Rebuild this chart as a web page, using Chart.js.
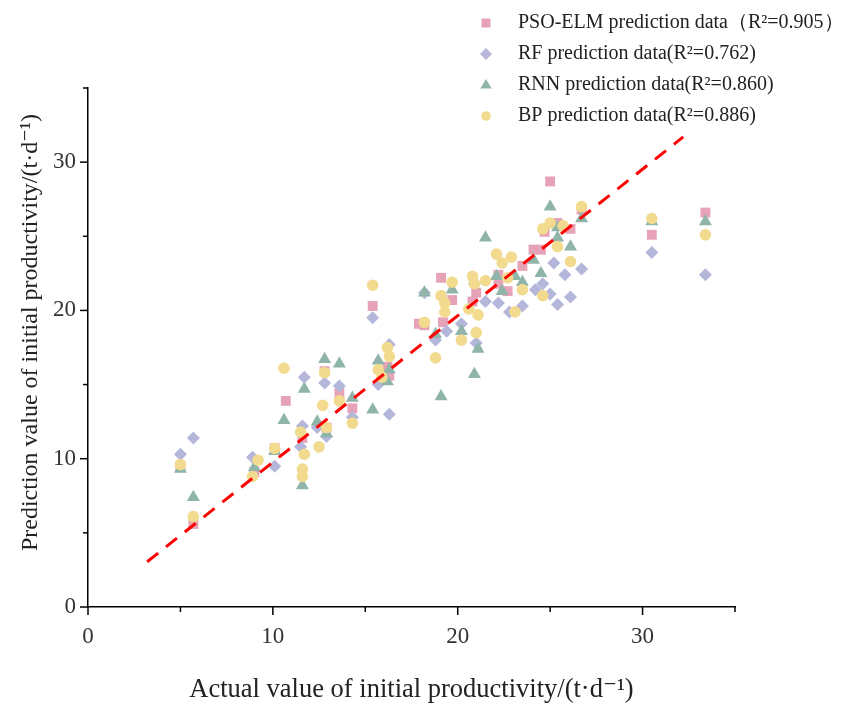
<!DOCTYPE html>
<html lang="en">
<head>
<meta charset="UTF-8">
<title>Initial productivity prediction</title>
<style>
  html, body { margin: 0; padding: 0; background: #fff; }
  #box { width: 844px; height: 704px; }
</style>
</head>
<body>
<div id="box"><canvas id="myChart" width="844" height="704"></canvas></div>
<script src="https://cdn.jsdelivr.net/npm/chart.js"></script>
<script>
// PSO-ELM prediction
const psoX = [5.0, 5.7, 9.0, 10.1, 10.7, 11.6, 12.8, 12.9, 13.6, 14.3, 15.4, 16.2, 16.3, 17.9, 18.2, 19.1, 19.2, 19.7, 20.8, 21.0, 22.2, 22.2, 22.7, 23.5, 24.1, 24.5, 24.7, 25.0, 25.4, 26.1, 26.7, 30.5, 33.4];
const psoY = [9.5, 5.6, 9.1, 10.7, 13.9, 11.4, 15.9, 12.1, 14.4, 13.4, 20.3, 16.2, 15.6, 19.1, 19.0, 22.2, 19.2, 20.7, 20.6, 21.2, 22.4, 21.8, 21.3, 23.0, 24.1, 24.1, 25.3, 28.7, 25.9, 25.5, 26.8, 25.1, 26.6];

// RF prediction
const rfX = [5.0, 5.7, 8.9, 10.1, 11.5, 11.6, 11.7, 12.4, 12.8, 12.9, 13.6, 14.3, 15.4, 15.7, 16.3, 16.3, 18.2, 18.8, 19.4, 20.2, 21.0, 21.5, 22.2, 22.8, 23.5, 24.2, 24.6, 25.0, 25.2, 25.4, 25.8, 26.1, 26.7, 30.5, 33.4];
const rfY = [10.3, 11.4, 10.1, 9.5, 10.8, 12.2, 15.5, 12.1, 15.1, 11.5, 14.9, 12.8, 19.5, 15.0, 17.7, 13.0, 21.2, 18.0, 18.6, 19.1, 17.8, 20.6, 20.5, 19.9, 20.3, 21.4, 21.8, 21.1, 23.2, 20.4, 22.4, 20.9, 22.8, 23.9, 22.4];

// RNN prediction
const rnnX = [5.0, 5.7, 9.0, 10.1, 10.6, 11.6, 11.7, 12.4, 12.8, 12.9, 13.6, 14.3, 15.4, 15.7, 16.2, 16.3, 18.2, 18.8, 19.1, 19.7, 20.2, 20.9, 20.9, 21.1, 21.5, 22.1, 22.4, 23.1, 23.5, 24.1, 24.5, 25.0, 25.4, 25.4, 26.1, 26.7, 30.5, 33.4];
const rnnY = [9.3, 7.4, 9.4, 10.5, 12.6, 8.2, 14.7, 12.5, 16.7, 11.7, 16.4, 14.1, 13.3, 16.6, 15.2, 16.0, 21.2, 18.4, 14.2, 21.4, 18.6, 22.0, 15.7, 17.4, 24.9, 22.3, 21.3, 22.3, 21.9, 23.4, 22.5, 27.0, 25.6, 24.9, 24.3, 26.2, 26.0, 26.0];

// BP prediction
const bpX = [5.0, 5.7, 8.9, 9.2, 10.1, 10.6, 11.5, 11.6, 11.6, 11.7, 12.5, 12.7, 12.8, 12.9, 13.6, 14.3, 15.4, 15.7, 15.9, 16.2, 16.3, 18.2, 18.8, 19.1, 19.3, 19.3, 19.7, 20.2, 20.6, 20.8, 20.9, 21.0, 21.1, 21.5, 22.1, 22.4, 22.7, 22.9, 23.1, 23.5, 24.6, 24.6, 25.0, 25.4, 25.7, 26.1, 26.7, 30.5, 33.4];
const bpY = [9.6, 6.1, 8.8, 9.9, 10.7, 16.1, 11.8, 9.3, 8.8, 10.3, 10.8, 13.6, 15.8, 12.1, 13.9, 12.4, 21.7, 16.0, 15.5, 17.5, 16.9, 19.2, 16.8, 21.0, 20.5, 19.9, 21.9, 18.0, 20.1, 22.3, 21.8, 18.5, 19.7, 22.0, 23.8, 23.2, 22.2, 23.6, 19.9, 21.4, 21.0, 25.5, 25.9, 24.3, 25.7, 23.3, 27.0, 26.2, 25.1];

// dashed reference line
const fitX = [3.2, 32.2];
const fitY = [3.05, 31.7];

const tickValues = [0, 5, 10, 15, 20, 25, 30, 35];
const legendLabels = [
    'PSO-ELM prediction data\uFF08R\u00B2=0.905\uFF09',
    'RF prediction data(R\u00B2=0.762)',
    'RNN prediction data(R\u00B2=0.860)',
    'BP prediction data(R\u00B2=0.886)'
];
const seriesColors = ['#e6a3b8', '#b4b6da', '#8fb5aa', '#f2da8e'];
const seriesStyles = ['rect', 'rectRot', 'triangle', 'circle'];
const seriesRadius = [7, 6.5, 7.5, 5.8];

const serif = "'Liberation Serif', 'DejaVu Serif', serif";

function toPoints(xs, ys) {
    return xs.map(function (x, i) { return { x: x, y: ys[i] }; });
}

const sets = [[psoX, psoY], [rfX, rfY], [rnnX, rnnY], [bpX, bpY]];
const datasets = sets.map(function (s, i) {
    return {
        type: 'scatter',
        label: legendLabels[i],
        data: toPoints(s[0], s[1]),
        pointStyle: seriesStyles[i],
        pointRadius: seriesRadius[i],
        pointBackgroundColor: seriesColors[i],
        pointBorderWidth: 0,
        order: 4 - i
    };
});
datasets.push({
    type: 'line',
    label: 'fit',
    data: toPoints(fitX, fitY),
    borderColor: '#ff0000',
    borderWidth: 3,
    borderDash: [14, 10],
    pointRadius: 0,
    fill: false,
    order: 0
});

// tick marks: long at 10s, short at 5s
const axisTicks = {
    id: 'axisTicks',
    afterDraw(chart) {
        const ctx = chart.ctx, a = chart.chartArea;
        const xs = chart.scales.x, ys = chart.scales.y;
        ctx.save();
        ctx.strokeStyle = '#000';
        ctx.lineWidth = 1.5;
        tickValues.forEach(function (v) {
            const len = v % 10 === 0 ? 8 : 5;
            const px = xs.getPixelForValue(v);
            ctx.beginPath();
            ctx.moveTo(px, a.bottom);
            ctx.lineTo(px, a.bottom + len);
            ctx.stroke();
            const py = ys.getPixelForValue(v);
            ctx.beginPath();
            ctx.moveTo(a.left, py);
            ctx.lineTo(a.left - len, py);
            ctx.stroke();
        });
        ctx.restore();
    }
};

// legend in the top right corner
function drawMarker(ctx, style, x, y, r) {
    ctx.beginPath();
    if (style === 'rect') {
        ctx.rect(x - r * 0.75, y - r * 0.75, r * 1.5, r * 1.5);
    } else if (style === 'rectRot') {
        ctx.moveTo(x, y - r); ctx.lineTo(x + r, y); ctx.lineTo(x, y + r); ctx.lineTo(x - r, y);
        ctx.closePath();
    } else if (style === 'triangle') {
        ctx.moveTo(x, y - r); ctx.lineTo(x + r * 0.95, y + r * 0.6); ctx.lineTo(x - r * 0.95, y + r * 0.6);
        ctx.closePath();
    } else {
        ctx.arc(x, y, r * 0.8, 0, Math.PI * 2);
    }
    ctx.fill();
}

const cornerLegend = {
    id: 'cornerLegend',
    afterDraw(chart) {
        const ctx = chart.ctx;
        const x0 = chart.width - 358, y0 = 23, gap = 31;
        ctx.save();
        ctx.font = '20px ' + serif;
        ctx.textBaseline = 'middle';
        ctx.textAlign = 'left';
        legendLabels.forEach(function (txt, i) {
            const y = y0 + i * gap;
            ctx.fillStyle = seriesColors[i];
            drawMarker(ctx, seriesStyles[i], x0, y, 6);
            ctx.fillStyle = '#222';
            ctx.fillText(txt, x0 + 32, y);
        });
        ctx.restore();
    }
};

const ctx = document.getElementById('myChart');
const myChart = new Chart(ctx, {
    data: { datasets: datasets },
    options: {
        responsive: false,
        animation: false,
        layout: { padding: { top: 88, right: 109, left: 0, bottom: 0 } },
        plugins: { legend: { display: false }, tooltip: { enabled: false } },
        scales: {
            x: {
                type: 'linear',
                min: 0,
                max: 35,
                afterFit: function (s) { s.height = 97; },
                grid: { display: false, drawTicks: false, tickLength: 0 },
                border: { display: true, color: '#000', width: 1.5 },
                ticks: {
                    stepSize: 5,
                    padding: 16,
                    color: '#333',
                    font: { family: serif, size: 23 },
                    callback: function (v) { return v % 10 === 0 ? v : ''; }
                },
                title: {
                    display: true,
                    text: 'Actual value of initial productivity/(t\u00B7d\u207B\u00B9)',
                    color: '#222',
                    font: { family: serif, size: 26.5 },
                    padding: { top: 0, bottom: -2 }
                }
            },
            y: {
                type: 'linear',
                min: 0,
                max: 35,
                afterFit: function (s) { s.width = 88; },
                grid: { display: false, drawTicks: false, tickLength: 0 },
                border: { display: true, color: '#000', width: 1.5 },
                ticks: {
                    stepSize: 5,
                    padding: 12,
                    color: '#333',
                    font: { family: serif, size: 23 },
                    callback: function (v) { return v % 10 === 0 ? v : ''; }
                },
                title: {
                    display: true,
                    text: '\u00A0\u00A0\u00A0\u00A0\u00A0Prediction value of initial productivity/(t\u00B7d\u207B\u00B9)',
                    color: '#222',
                    font: { family: serif, size: 24 },
                    padding: { top: 16, bottom: 0 }
                }
            }
        }
    },
    plugins: [axisTicks, cornerLegend]
});
</script>
</body>
</html>
